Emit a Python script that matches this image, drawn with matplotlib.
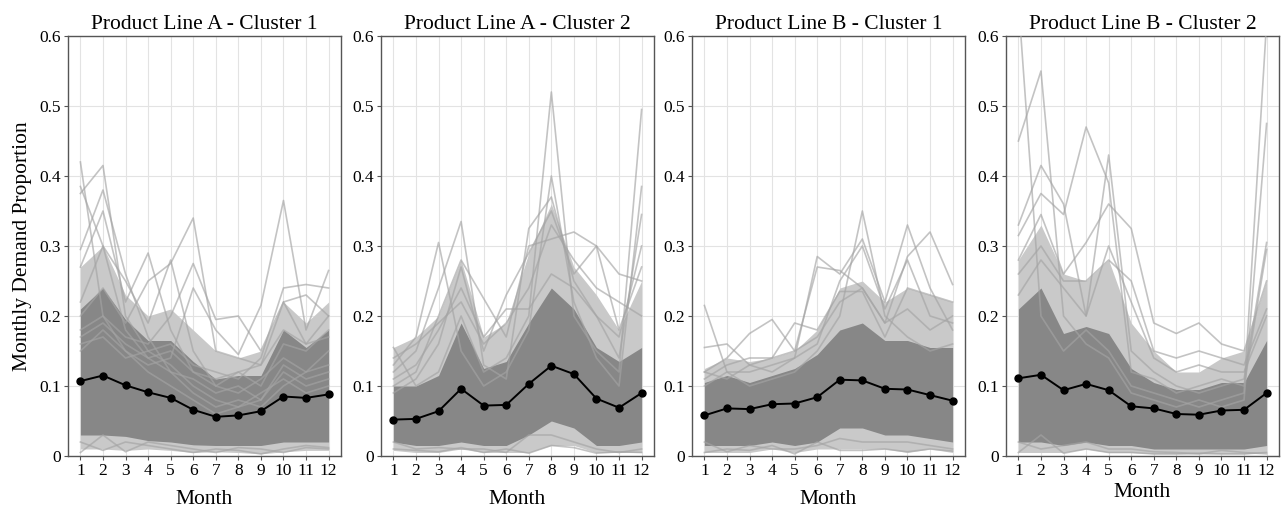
import matplotlib
matplotlib.use("Agg")
import matplotlib.pyplot as plt

plt.rcParams["font.family"] = ["Liberation Serif", "DejaVu Serif"]

MONTHS = list(range(1, 13))
TITLES = [
    "Product Line A - Cluster 1",
    "Product Line A - Cluster 2",
    "Product Line B - Cluster 1",
    "Product Line B - Cluster 2",
]

# cluster means (black line)
mean_a1 = [0.107, 0.115, 0.101, 0.091, 0.083, 0.066, 0.056, 0.058, 0.064, 0.085, 0.083, 0.088]
mean_a2 = [0.052, 0.053, 0.064, 0.096, 0.072, 0.073, 0.103, 0.129, 0.117, 0.082, 0.069, 0.090]
mean_b1 = [0.058, 0.068, 0.067, 0.074, 0.075, 0.084, 0.109, 0.108, 0.096, 0.095, 0.087, 0.079]
mean_b2 = [0.111, 0.116, 0.094, 0.103, 0.094, 0.071, 0.068, 0.060, 0.059, 0.065, 0.066, 0.090]

# dense core of the individual series (where lines overlap solidly)
core_lo_a1 = [0.030, 0.030, 0.028, 0.022, 0.020, 0.016, 0.015, 0.015, 0.015, 0.020, 0.020, 0.020]
core_hi_a1 = [0.210, 0.240, 0.195, 0.165, 0.165, 0.135, 0.110, 0.115, 0.115, 0.180, 0.155, 0.180]
core_lo_a2 = [0.020, 0.015, 0.015, 0.020, 0.015, 0.015, 0.030, 0.050, 0.040, 0.015, 0.015, 0.020]
core_hi_a2 = [0.100, 0.100, 0.115, 0.190, 0.125, 0.135, 0.190, 0.240, 0.210, 0.155, 0.135, 0.155]
core_lo_b1 = [0.015, 0.015, 0.015, 0.020, 0.015, 0.020, 0.040, 0.040, 0.030, 0.030, 0.025, 0.020]
core_hi_b1 = [0.105, 0.115, 0.105, 0.115, 0.125, 0.145, 0.180, 0.190, 0.165, 0.165, 0.155, 0.155]
core_lo_b2 = [0.020, 0.020, 0.015, 0.020, 0.015, 0.015, 0.010, 0.010, 0.010, 0.010, 0.010, 0.015]
core_hi_b2 = [0.210, 0.240, 0.175, 0.185, 0.175, 0.125, 0.105, 0.095, 0.095, 0.105, 0.105, 0.165]

# looser spread of the series (lighter gray)
outer_lo_a1 = [0.010, 0.010, 0.008, 0.010, 0.008, 0.005, 0.006, 0.005, 0.003, 0.006, 0.008, 0.008]
outer_hi_a1 = [0.270, 0.300, 0.230, 0.200, 0.210, 0.180, 0.150, 0.140, 0.150, 0.220, 0.190, 0.220]
outer_lo_a2 = [0.008, 0.005, 0.005, 0.010, 0.005, 0.005, 0.005, 0.015, 0.015, 0.005, 0.005, 0.005]
outer_hi_a2 = [0.155, 0.170, 0.200, 0.280, 0.170, 0.190, 0.290, 0.360, 0.270, 0.230, 0.180, 0.250]
outer_lo_b1 = [0.005, 0.005, 0.005, 0.010, 0.005, 0.010, 0.010, 0.010, 0.010, 0.005, 0.010, 0.005]
outer_hi_b1 = [0.125, 0.140, 0.135, 0.140, 0.150, 0.180, 0.240, 0.250, 0.220, 0.240, 0.230, 0.220]
outer_lo_b2 = [0.005, 0.005, 0.005, 0.010, 0.005, 0.005, 0.003, 0.003, 0.003, 0.003, 0.003, 0.005]
outer_hi_b2 = [0.280, 0.330, 0.260, 0.250, 0.280, 0.190, 0.150, 0.120, 0.120, 0.140, 0.150, 0.250]

# individual series that stand out (peaks and lowest lines)
series_a1 = [
    [0.420, 0.200, 0.150, 0.120, 0.100, 0.080, 0.060, 0.070, 0.080, 0.120, 0.100, 0.110],
    [0.385, 0.300, 0.180, 0.140, 0.120, 0.090, 0.070, 0.080, 0.070, 0.100, 0.120, 0.130],
    [0.375, 0.415, 0.200, 0.150, 0.130, 0.100, 0.080, 0.070, 0.090, 0.110, 0.090, 0.100],
    [0.295, 0.380, 0.260, 0.170, 0.120, 0.110, 0.090, 0.100, 0.080, 0.130, 0.110, 0.120],
    [0.270, 0.350, 0.220, 0.290, 0.180, 0.120, 0.100, 0.090, 0.110, 0.140, 0.120, 0.150],
    [0.220, 0.300, 0.250, 0.190, 0.280, 0.150, 0.100, 0.120, 0.100, 0.160, 0.150, 0.180],
    [0.200, 0.240, 0.190, 0.250, 0.275, 0.340, 0.150, 0.140, 0.130, 0.180, 0.160, 0.170],
    [0.180, 0.200, 0.170, 0.160, 0.200, 0.275, 0.195, 0.200, 0.150, 0.220, 0.160, 0.200],
    [0.150, 0.180, 0.150, 0.130, 0.140, 0.240, 0.180, 0.145, 0.215, 0.365, 0.180, 0.265],
    [0.160, 0.170, 0.140, 0.150, 0.160, 0.130, 0.120, 0.110, 0.140, 0.240, 0.245, 0.240],
    [0.170, 0.190, 0.160, 0.140, 0.150, 0.120, 0.110, 0.120, 0.130, 0.220, 0.230, 0.200],
    [0.020, 0.008, 0.020, 0.015, 0.010, 0.005, 0.010, 0.008, 0.003, 0.010, 0.015, 0.012],
    [0.005, 0.030, 0.006, 0.020, 0.015, 0.010, 0.005, 0.012, 0.010, 0.005, 0.012, 0.010],
]
series_a2 = [
    [0.155, 0.100, 0.120, 0.200, 0.120, 0.140, 0.200, 0.520, 0.200, 0.150, 0.120, 0.495],
    [0.130, 0.170, 0.305, 0.150, 0.100, 0.120, 0.180, 0.400, 0.220, 0.140, 0.100, 0.385],
    [0.120, 0.150, 0.240, 0.335, 0.130, 0.110, 0.325, 0.370, 0.250, 0.200, 0.140, 0.345],
    [0.100, 0.120, 0.200, 0.280, 0.225, 0.170, 0.300, 0.310, 0.320, 0.300, 0.180, 0.270],
    [0.090, 0.110, 0.160, 0.270, 0.150, 0.230, 0.290, 0.350, 0.260, 0.300, 0.260, 0.250],
    [0.110, 0.130, 0.180, 0.240, 0.170, 0.210, 0.210, 0.260, 0.240, 0.200, 0.170, 0.300],
    [0.140, 0.160, 0.190, 0.220, 0.160, 0.190, 0.240, 0.330, 0.280, 0.240, 0.220, 0.200],
    [0.010, 0.008, 0.006, 0.012, 0.005, 0.010, 0.004, 0.015, 0.012, 0.004, 0.006, 0.005],
    [0.020, 0.010, 0.012, 0.010, 0.010, 0.005, 0.030, 0.030, 0.020, 0.010, 0.005, 0.010],
]
series_b1 = [
    [0.215, 0.120, 0.100, 0.110, 0.120, 0.150, 0.200, 0.350, 0.200, 0.170, 0.150, 0.160],
    [0.155, 0.160, 0.130, 0.120, 0.140, 0.285, 0.260, 0.310, 0.220, 0.330, 0.240, 0.180],
    [0.120, 0.140, 0.175, 0.195, 0.150, 0.270, 0.265, 0.240, 0.190, 0.285, 0.320, 0.245],
    [0.110, 0.130, 0.140, 0.140, 0.190, 0.180, 0.235, 0.235, 0.170, 0.240, 0.230, 0.220],
    [0.100, 0.120, 0.120, 0.130, 0.140, 0.160, 0.250, 0.300, 0.210, 0.280, 0.200, 0.190],
    [0.120, 0.110, 0.130, 0.140, 0.150, 0.170, 0.220, 0.240, 0.190, 0.210, 0.180, 0.200],
    [0.005, 0.010, 0.008, 0.015, 0.003, 0.020, 0.008, 0.008, 0.010, 0.006, 0.010, 0.007],
    [0.020, 0.006, 0.015, 0.010, 0.010, 0.015, 0.025, 0.020, 0.020, 0.020, 0.015, 0.010],
]
series_b2 = [
    [0.650, 0.200, 0.150, 0.180, 0.150, 0.100, 0.090, 0.080, 0.070, 0.080, 0.090, 0.620],
    [0.450, 0.550, 0.200, 0.160, 0.140, 0.090, 0.080, 0.070, 0.080, 0.070, 0.080, 0.475],
    [0.330, 0.415, 0.360, 0.200, 0.430, 0.150, 0.120, 0.100, 0.090, 0.100, 0.110, 0.305],
    [0.315, 0.375, 0.345, 0.470, 0.390, 0.120, 0.110, 0.090, 0.100, 0.110, 0.100, 0.295],
    [0.280, 0.345, 0.260, 0.305, 0.360, 0.325, 0.190, 0.175, 0.190, 0.160, 0.150, 0.250],
    [0.260, 0.300, 0.250, 0.250, 0.280, 0.250, 0.150, 0.140, 0.150, 0.140, 0.130, 0.210],
    [0.230, 0.280, 0.240, 0.200, 0.300, 0.220, 0.140, 0.120, 0.130, 0.120, 0.120, 0.200],
    [0.005, 0.030, 0.004, 0.010, 0.005, 0.005, 0.003, 0.003, 0.004, 0.003, 0.003, 0.005],
    [0.020, 0.010, 0.015, 0.020, 0.010, 0.010, 0.006, 0.005, 0.003, 0.008, 0.005, 0.003],
]

panels = [
    (mean_a1, core_lo_a1, core_hi_a1, outer_lo_a1, outer_hi_a1, series_a1),
    (mean_a2, core_lo_a2, core_hi_a2, outer_lo_a2, outer_hi_a2, series_a2),
    (mean_b1, core_lo_b1, core_hi_b1, outer_lo_b1, outer_hi_b1, series_b1),
    (mean_b2, core_lo_b2, core_hi_b2, outer_lo_b2, outer_hi_b2, series_b2),
]

W, H = 1282, 508
fig = plt.figure(figsize=(W / 100, H / 100), dpi=100)
lefts = [68, 381, 692, 1006]
ax_w, ax_top, ax_bot = 273, 36, 456

for i, (mean, clo, chi, olo, ohi, series) in enumerate(panels):
    ax = fig.add_axes([lefts[i] / W, (H - ax_bot) / H, ax_w / W, (ax_bot - ax_top) / H])
    ax.fill_between(MONTHS, olo, ohi, color="#c9c9c9", lw=0, zorder=1)
    ax.fill_between(MONTHS, clo, chi, color="#878787", lw=0, zorder=2)
    for s in series:
        ax.plot(MONTHS, s, color="#a4a4a4", alpha=0.65, lw=1.2, zorder=3)
    ax.plot(MONTHS, mean, color="black", lw=1.4, marker="o", ms=5, zorder=5)

    ax.set_xlim(0.45, 12.55)
    ax.set_ylim(0, 0.6)
    ax.set_xticks(MONTHS)
    ax.set_yticks([0, 0.1, 0.2, 0.3, 0.4, 0.5, 0.6])
    ax.set_yticklabels(["0", "0.1", "0.2", "0.3", "0.4", "0.5", "0.6"])
    ax.grid(True, color="#e3e3e3", lw=0.8, zorder=0)
    ax.set_axisbelow(True)
    ax.tick_params(labelsize=12.5, length=3, color="#555555", pad=2)
    for sp in ax.spines.values():
        sp.set_color("#555555")
        sp.set_linewidth(1.0)
    ax.set_title(TITLES[i], fontsize=15.5, pad=5)
    # last panel's axis title sits a little higher in the original
    ax.set_xlabel("Month", fontsize=15.5, labelpad=8 if i < 3 else 3)
    if i == 0:
        ax.set_ylabel("Monthly Demand Proportion", fontsize=15.5, labelpad=5)

fig.savefig("out.png", dpi=100)
